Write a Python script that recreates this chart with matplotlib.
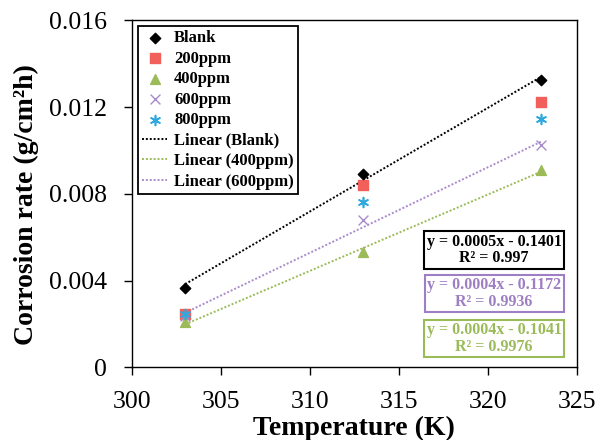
import numpy as np
import matplotlib
matplotlib.use("Agg")
import matplotlib.pyplot as plt

temps = [303, 313, 323]
blank = [0.00368, 0.00893, 0.01324]
ppm200 = [0.00247, 0.00840, 0.01225]
ppm400 = [0.00207, 0.00533, 0.00911]
ppm600 = [0.00235, 0.00680, 0.01024]
ppm800 = [0.00247, 0.00762, 0.01143]

x_ticks = [300, 305, 310, 315, 320, 325]
y_ticks = [0, 0.004, 0.008, 0.012, 0.016]
y_tick_labels = ["0", "0.004", "0.008", "0.012", "0.016"]

eq_blank = "y = 0.0005x - 0.1401\nR² = 0.997"
eq_600 = "y = 0.0004x - 0.1172\nR² = 0.9936"
eq_400 = "y = 0.0004x - 0.1041\nR² = 0.9976"

c_blank = "black"
c_200 = "#F2605C"
c_400 = "#9BBB59"
c_600 = "#A98BCB"
c_800 = "#2EA9DF"

plt.rcParams['font.family'] = ['Liberation Serif', 'DejaVu Serif']

fig = plt.figure(figsize=(5.96, 4.4), dpi=100)
ax = fig.add_axes([0.221, 0.165, 0.747, 0.789])

ax.scatter(temps, blank, marker='D', s=28, color=c_blank, label='Blank', zorder=5)
ax.scatter(temps, ppm200, marker='s', s=55, color=c_200, label='200ppm', zorder=4)
ax.scatter(temps, ppm400, marker='^', s=50, color=c_400, label='400ppm', zorder=4)
ax.scatter(temps, ppm600, marker='x', s=50, color=c_600, linewidths=1.0, label='600ppm', zorder=4)
ax.scatter(temps, ppm800, marker=(6, 2, 0), s=50, color=c_800, linewidths=1.2, label='800ppm', zorder=4)

t = np.array(temps, dtype=float)
for vals, col, lab in [(blank, c_blank, 'Linear (Blank)'),
                       (ppm400, c_400, 'Linear (400ppm)'),
                       (ppm600, c_600, 'Linear (600ppm)')]:
    p = np.polyfit(t, vals, 1)
    ax.plot(t, np.polyval(p, t), linestyle=(0, (1, 1)), color=col, lw=1.4, label=lab, zorder=3)

ax.set_xlim(300, 325)
ax.set_ylim(0, 0.016)
ax.set_xticks(x_ticks)
ax.set_yticks(y_ticks)
ax.set_yticklabels(y_tick_labels)
ax.tick_params(direction='out', length=6, width=1, labelsize=18.5)
ax.tick_params(axis='x', pad=11)
ax.tick_params(axis='y', pad=12)
for s in ax.spines.values():
    s.set_linewidth(1.0)

ax.set_xlabel('Temperature (K)', fontsize=20, fontweight='bold', labelpad=2)
ax.set_ylabel('Corrosion rate (g/cm²h)', fontsize=20, fontweight='bold')
ax.yaxis.set_label_coords(-0.208, 0.468)

leg = ax.legend(loc='upper left', bbox_to_anchor=(0.0148, 0.983), fancybox=False,
                edgecolor='black', framealpha=1,
                prop={'weight': 'bold', 'size': 12}, handlelength=1.5,
                handletextpad=0.4, borderpad=0.25, labelspacing=0.27, borderaxespad=0)
leg.get_frame().set_linewidth(1.3)

def eqbox(y, txt, col):
    ax.text(0.814, y, txt, transform=ax.transAxes, ha='center', va='center',
            fontsize=11.5, fontweight='bold', color=col, linespacing=1.05,
            bbox=dict(boxstyle='square,pad=0.15', fc='white', ec=col, lw=1.5))

eqbox(0.338, eq_blank, 'black')
eqbox(0.2125, eq_600, '#9E7EC4')
eqbox(0.083, eq_400, c_400)

fig.savefig('out.png', dpi=100)
